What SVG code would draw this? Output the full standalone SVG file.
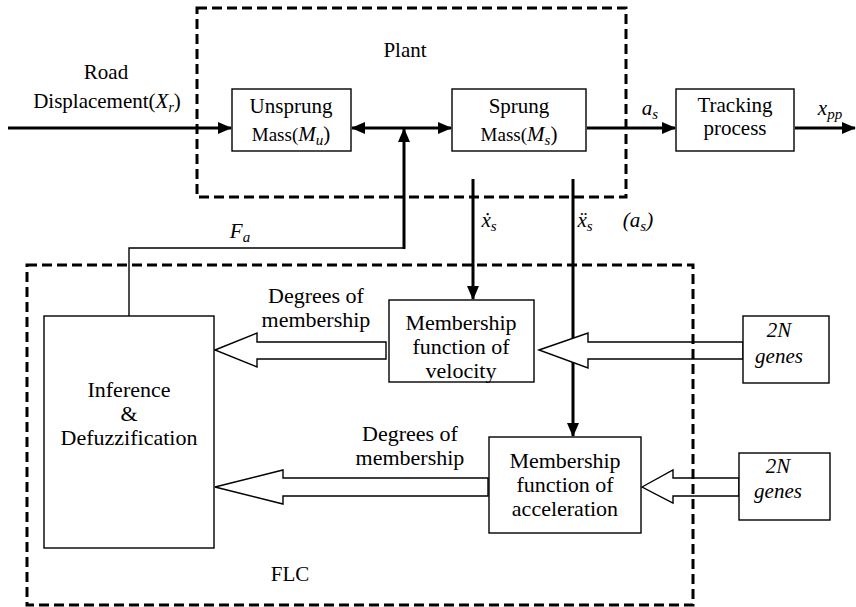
<svg xmlns="http://www.w3.org/2000/svg" width="856" height="607" viewBox="0 0 856 607" font-family="Liberation Serif, Times New Roman, DejaVu Serif, serif">
<style>
  text { font-family: "Liberation Serif", "Times New Roman", "DejaVu Serif", serif; font-size: 21px; fill: #000; text-anchor: middle; }
  .it { font-style: italic; }
  .big { font-size: 22px; }
  .box { fill: #fff; stroke: #000; stroke-width: 1.4; }
  .frame { fill: none; stroke: #000; stroke-width: 3; stroke-dasharray: 10 5; }
  .thick { fill: none; stroke: #000; stroke-width: 3; }
  .thin { fill: none; stroke: #000; stroke-width: 1.4; }
  .blk { fill: #fff; stroke: #000; stroke-width: 1.4; stroke-linejoin: miter; }
</style>
<defs>
  <marker id="ah" markerUnits="userSpaceOnUse" markerWidth="14" markerHeight="12" refX="13" refY="6" orient="auto-start-reverse">
    <path d="M0,0 L14,6 L0,12 Z" fill="#000"/>
  </marker>
</defs>
<rect width="856" height="607" fill="#fff"/>

<g id="connectors">
  <line class="thick" x1="8" y1="128" x2="231" y2="128" marker-end="url(#ah)"/>
  <line class="thick" x1="352" y1="128" x2="451" y2="128" marker-start="url(#ah)" marker-end="url(#ah)"/>
  <polyline class="thin" points="129,316 129,248 404,248"/>
  <line class="thick" x1="404" y1="249" x2="404" y2="129" marker-end="url(#ah)"/>
  <line class="thick" x1="587" y1="128" x2="675" y2="128" marker-end="url(#ah)"/>
  <line class="thick" x1="795" y1="128" x2="855" y2="128" marker-end="url(#ah)"/>
  <line class="thick" x1="473" y1="179" x2="473" y2="299" marker-end="url(#ah)"/>
  <line class="thick" x1="573" y1="179" x2="573" y2="436" marker-end="url(#ah)"/>
  <polygon class="blk" points="215,350 257,333 257,342 386,342 386,359 257,359 257,367"/>
  <polygon class="blk" points="539,350 588,333 588,342 743,342 743,359 588,359 588,368"/>
  <polygon class="blk" points="215,487 283,470 283,478 488,478 488,496 283,496 283,504"/>
  <polygon class="blk" points="642,487 673,470 673,478 739,478 739,496 673,496 673,503"/>
</g>

<g id="plant-frame">
  <rect class="frame" x="197" y="8" width="429" height="189"/>
  <text x="405" y="57">Plant</text>
</g>
<g id="flc-frame">
  <rect class="frame" x="27" y="265" width="666" height="340"/>
  <text x="290" y="581">FLC</text>
</g>

<g id="road-label">
  <text x="106" y="79">Road</text>
  <text x="107" y="108">Displacement(<tspan class="it">X</tspan><tspan class="it" font-size="14" dy="4">r</tspan><tspan dy="-4">)</tspan></text>
</g>

<g id="unsprung">
  <rect class="box" x="232" y="89" width="119" height="62"/>
  <text x="291" y="113">Unsprung</text>
  <text x="291" y="141"><tspan font-size="19">Mass(</tspan><tspan class="it">M</tspan><tspan class="it" font-size="15" dy="4">u</tspan><tspan dy="-4">)</tspan></text>
</g>

<g id="sprung">
  <rect class="box" x="452" y="89" width="134" height="62"/>
  <text x="519" y="113">Sprung</text>
  <text x="519" y="141"><tspan font-size="19">Mass(</tspan><tspan class="it">M</tspan><tspan class="it" font-size="15" dy="4">s</tspan><tspan dy="-4">)</tspan></text>
</g>

<g id="tracking">
  <rect class="box" x="676" y="89" width="118" height="62"/>
  <text x="735" y="112">Tracking</text>
  <text x="735" y="135">process</text>
</g>

<g id="labels">
  <text x="650" y="115" class="it">a<tspan font-size="15" dy="4">s</tspan></text>
  <text x="830" y="115" class="it">x<tspan font-size="15" dy="4">pp</tspan></text>
  <text x="240" y="238" class="it">F<tspan font-size="15" dy="4">a</tspan></text>
  <text x="489" y="227" class="it">ẋ<tspan font-size="15" dy="4">s</tspan></text>
  <text x="585" y="227" class="it">ẍ<tspan font-size="15" dy="4">s</tspan></text>
  <text x="638" y="227" class="it">(a<tspan font-size="15" dy="4">s</tspan><tspan dy="-4">)</tspan></text>
  <text x="316" y="303" class="big">Degrees of</text>
  <text x="316" y="327" class="big">membership</text>
  <text x="410" y="441" class="big">Degrees of</text>
  <text x="410" y="465" class="big">membership</text>
</g>

<g id="inference">
  <rect class="box" x="44" y="316" width="170" height="232"/>
  <text x="129" y="397" class="big">Inference</text>
  <text x="129" y="421" class="big">&amp;</text>
  <text x="129" y="445" class="big">Defuzzification</text>
</g>

<g id="mf-velocity">
  <rect class="box" x="389" y="300" width="145" height="82"/>
  <text x="461" y="330" class="big">Membership</text>
  <text x="461" y="354" class="big">function of</text>
  <text x="461" y="378" class="big">velocity</text>
</g>

<g id="mf-acceleration">
  <rect class="box" x="489" y="437" width="152" height="96"/>
  <text x="565" y="468" class="big">Membership</text>
  <text x="565" y="492" class="big">function of</text>
  <text x="565" y="516" class="big">acceleration</text>
</g>

<g id="genes1">
  <rect class="box" x="743" y="316" width="86" height="67"/>
  <text x="779" y="337" class="it">2N</text>
  <text x="779" y="363" class="it">genes</text>
</g>

<g id="genes2">
  <rect class="box" x="739" y="453" width="91" height="67"/>
  <text x="778" y="473" class="it">2N</text>
  <text x="778" y="498" class="it">genes</text>
</g>
</svg>
